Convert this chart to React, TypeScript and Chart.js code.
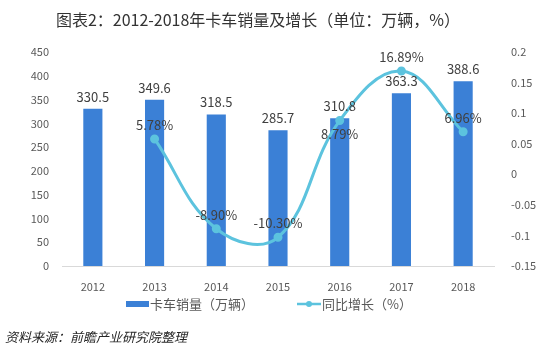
import React, { useEffect, useRef } from "react";
import { Chart, registerables } from "chart.js";

Chart.register(...registerables);

const categories = ["2012", "2013", "2014", "2015", "2016", "2017", "2018"];
const salesValues = [330.5, 349.6, 318.5, 285.7, 310.8, 363.3, 388.6];
const growthValues: (number | null)[] = [null, 0.0578, -0.089, -0.103, 0.0879, 0.1689, 0.0696];
const growthLabels = ["", "5.78%", "-8.90%", "-10.30%", "8.79%", "16.89%", "6.96%"];
const leftTicks = [0, 50, 100, 150, 200, 250, 300, 350, 400, 450];
const rightTicks = ["-0.15", "-0.1", "-0.05", "0", "0.05", "0.1", "0.15", "0.2"];
const growthLabelBelow = [4];

const titleText = "图表2：2012-2018年卡车销量及增长（单位：万辆，%）";
const sourceText = "资料来源：前瞻产业研究院整理";
const barLegend = "卡车销量（万辆）";
const lineLegend = "同比增长（%）";

const FONT = '"Noto Sans CJK SC", "Noto Sans", sans-serif';
const BAR_COLOR = "#3b80d6";
const LINE_COLOR = "#5cc3de";
const TEXT_COLOR = "#404040";
const TICK_COLOR = "#595959";

const decorPlugin = {
  id: "decor",
  afterDatasetsDraw(chart: any) {
    const ctx = chart.ctx;
    ctx.save();
    ctx.fillStyle = TEXT_COLOR;
    ctx.font = `13px ${FONT}`;
    ctx.textAlign = "center";
    ctx.textBaseline = "middle";
    const barMeta = chart.getDatasetMeta(1);
    barMeta.data.forEach((el: any, i: number) => {
      ctx.fillText(salesValues[i].toFixed(1), el.x, el.y - 12);
    });
    const lineMeta = chart.getDatasetMeta(0);
    lineMeta.data.forEach((el: any, i: number) => {
      if (growthValues[i] === null) return;
      const below = growthLabelBelow.includes(i);
      ctx.fillText(growthLabels[i], el.x, below ? el.y + 14 : el.y - 14);
    });
    ctx.restore();
  },
  afterDraw(chart: any) {
    const ctx = chart.ctx;
    ctx.save();
    // title
    ctx.fillStyle = "#333333";
    ctx.font = `16px ${FONT}`;
    ctx.textAlign = "center";
    ctx.textBaseline = "middle";
    ctx.fillText(titleText, 258, 20);
    // legend
    ctx.font = `13px ${FONT}`;
    ctx.textAlign = "left";
    ctx.fillStyle = BAR_COLOR;
    ctx.fillRect(126, 301, 23, 6);
    ctx.fillStyle = "#595959";
    ctx.fillText(barLegend, 150, 304);
    ctx.strokeStyle = LINE_COLOR;
    ctx.lineWidth = 2.5;
    ctx.beginPath();
    ctx.moveTo(297, 304);
    ctx.lineTo(321, 304);
    ctx.stroke();
    ctx.fillStyle = LINE_COLOR;
    ctx.beginPath();
    ctx.arc(309, 304, 3, 0, Math.PI * 2);
    ctx.fill();
    ctx.fillStyle = "#595959";
    ctx.fillText(lineLegend, 322, 304);
    // source
    ctx.fillStyle = "#262626";
    ctx.font = `italic 13px ${FONT}`;
    ctx.fillText(sourceText, 5, 337);
    ctx.restore();
  },
};

export default function App() {
  const ref = useRef<HTMLCanvasElement | null>(null);
  useEffect(() => {
    document.body.style.margin = "0";
    if (!ref.current) return;
    const chart = new Chart(ref.current, {
      type: "bar",
      data: {
        labels: categories,
        datasets: [
          {
            type: "line",
            label: lineLegend,
            data: growthValues,
            yAxisID: "y1",
            borderColor: LINE_COLOR,
            backgroundColor: LINE_COLOR,
            borderWidth: 3,
            pointRadius: 3,
            pointHoverRadius: 3,
            tension: 0.4,
            order: 0,
          } as any,
          {
            type: "bar",
            label: barLegend,
            data: salesValues,
            yAxisID: "y",
            backgroundColor: BAR_COLOR,
            categoryPercentage: 1,
            barPercentage: 0.31,
            order: 1,
          },
        ],
      },
      options: {
        responsive: false,
        animation: false,
        layout: { padding: { top: 52, bottom: 65, left: 0, right: 0 } },
        plugins: {
          legend: { display: false },
          title: { display: false },
          tooltip: { enabled: false },
        },
        scales: {
          x: {
            grid: { display: false },
            border: { display: true, color: "#d9d9d9" },
            ticks: { color: TICK_COLOR, font: { family: FONT, size: 11 }, padding: 6 },
            afterFit(s: any) {
              s.height = 26;
            },
          },
          y: {
            position: "left",
            min: 0,
            max: 450,
            grid: { display: false },
            border: { display: false },
            afterBuildTicks(s: any) {
              s.ticks = leftTicks.map((v) => ({ value: v }));
            },
            ticks: { color: TICK_COLOR, font: { family: FONT, size: 11 }, padding: 5 },
            afterFit(s: any) {
              s.width = 62;
            },
          },
          y1: {
            position: "right",
            min: -0.15,
            max: 0.2,
            grid: { display: false },
            border: { display: false },
            afterBuildTicks(s: any) {
              s.ticks = rightTicks.map((v) => ({ value: parseFloat(v) }));
            },
            ticks: {
              color: TICK_COLOR,
              font: { family: FONT, size: 11 },
              padding: 9,
              callback: (_v: any, i: number) => rightTicks[i],
            },
            afterFit(s: any) {
              s.width = 46;
            },
          },
        },
      },
      plugins: [decorPlugin],
    });
    return () => chart.destroy();
  }, []);
  return <canvas ref={ref} width={540} height={357} style={{ display: "block" }} />;
}
